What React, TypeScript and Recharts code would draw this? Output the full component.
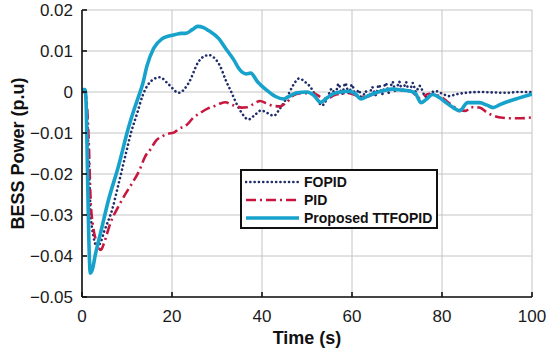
import React from 'react';
import { LineChart, Line, XAxis, YAxis, CartesianGrid, Legend } from 'recharts';

// [time (s), BESS power (p.u)]
const ttfopid: [number, number][] = [
  [0, 0.0003], [0.4, 0.0006], [0.7, 0.0006], [0.95, -0.004], [1.2, -0.018], [1.5, -0.035], [1.85, -0.0442],
  [2.3, -0.0433], [3, -0.0395], [4.1, -0.0345], [5.9, -0.0263], [8.1, -0.0181], [10.4, -0.0084], [11.5, -0.0045],
  [12.6, -0.001], [13.5, 0.002], [14.4, 0.0062], [15.9, 0.0106], [17.8, 0.013], [19.5, 0.0137], [20.7, 0.014],
  [22, 0.0143], [23, 0.0143], [24.5, 0.0152], [25.7, 0.016], [27, 0.0157], [28.1, 0.015], [30.4, 0.013],
  [32, 0.0105], [33.7, 0.0079], [35, 0.0055], [36.5, 0.0044], [37.5, 0.0046], [39, 0.0025], [41.1, 0.0004],
  [43, -0.0011], [44.8, -0.0017], [46.5, -0.0008], [47.8, -0.0002], [50, 0], [51.5, -0.0008], [53, -0.0025],
  [54.5, -0.0014], [55.9, -0.0004], [57.5, 0], [59.4, 0.0002], [60.8, -0.0005], [62, -0.0017], [63.5, -0.001],
  [65.3, -0.0002], [67, 0.0003], [69, 0.0007], [71, 0.0005], [73.1, 0.0002], [74.2, -0.0005], [75.3, -0.0026],
  [76.5, -0.0018], [77.9, -0.0006], [79.5, -0.0014], [80.9, -0.0026], [82.5, -0.0038], [83.9, -0.0046],
  [85.7, -0.0026], [88.3, -0.0026], [90, -0.0032], [91.3, -0.0038], [93, -0.003], [95, -0.0022], [97, -0.0015],
  [100, -0.0005],
];

const fopid: [number, number][] = [
  [0, 0], [0.6, 0], [1.0, -0.003], [1.5, -0.016], [1.9, -0.029], [2.5, -0.035], [3.4, -0.0378], [4.2, -0.0365],
  [5, -0.0338], [6.7, -0.0287], [8, -0.023], [9.6, -0.0157], [11, -0.0095], [12.2, -0.0054], [13.5, -0.0008],
  [14.5, 0.0015], [15.5, 0.0028], [17.3, 0.0036], [19.3, 0.0018], [21.5, -0.0002], [23.7, 0.0022], [25.9, 0.0074],
  [27.3, 0.0088], [28.3, 0.009], [29.5, 0.0082], [30.7, 0.0063], [31.9, 0.003], [33, 0.0004], [35.2, -0.0046],
  [37, -0.0067], [38.5, -0.0055], [39.8, -0.0045], [41, -0.005], [42.6, -0.0058], [44, -0.004], [45.6, -0.0012],
  [47, 0.0018], [48.3, 0.0033], [49.5, 0.0025], [50.7, 0.0013], [52, -0.001], [53.3, -0.0033], [54.5, -0.0015],
  [55.5, 0.0008], [56.3, -0.0005], [57, 0.002], [57.8, -0.0005], [58.5, 0.0022], [59.3, -0.0003], [60, 0.0018],
  [60.8, -0.0008], [61.5, 0.0005], [62.2, -0.0018], [63, 0.0002], [63.7, -0.0012], [64.5, 0.0012], [65.2, -0.0008],
  [66, 0.0018], [66.7, -0.0005], [67.5, 0.0022], [68.2, -0.0002], [69, 0.0025], [69.7, 0], [70.5, 0.0025],
  [71.2, 0], [72, 0.0024], [72.7, -0.0002], [73.5, 0.0022], [74.2, 0], [75, 0.0015], [76.4, -0.0012],
  [77.5, -0.0002], [78.7, 0.0002], [80, -0.0004], [81.6, -0.001], [83, -0.0006], [85.3, -0.0002], [88.3, 0],
  [91, -0.0001], [94.2, -0.0002], [97, 0], [100, 0],
];

const pid: [number, number][] = [
  [0, 0], [0.6, 0], [1.0, -0.002], [1.5, -0.012], [1.9, -0.026], [2.5, -0.033], [3.2, -0.0365], [4.2, -0.0385],
  [5, -0.0365], [6.3, -0.032], [8.1, -0.0279], [9.3, -0.0255], [11, -0.0225], [12.8, -0.019], [14, -0.0158],
  [15.2, -0.014], [16.5, -0.0118], [17.8, -0.0108], [19, -0.0102], [20.4, -0.0099], [21.5, -0.009], [23.3, -0.008],
  [24.8, -0.0062], [26.3, -0.0051], [28, -0.004], [29.3, -0.0035], [30.7, -0.0028], [31.9, -0.0025], [33, -0.003],
  [34.4, -0.0035], [35.5, -0.0038], [36.7, -0.0037], [38, -0.003], [39.6, -0.0022], [41, -0.0028], [42.6, -0.0034],
  [44, -0.0035], [45.5, -0.0025], [47, -0.0008], [49, -0.0003], [51.5, -0.0004], [53, -0.0012], [54.4, -0.0017],
  [56, -0.0008], [57.4, -0.0004], [59, -0.0002], [61, -0.0008], [63, -0.0012], [65, -0.0004], [67, 0.0002],
  [69, 0.0006], [71, 0.0005], [73, 0.0003], [75, -0.0015], [77, -0.0005], [79.4, -0.001], [81, -0.0022],
  [82.4, -0.0034], [84, -0.0044], [85.3, -0.0046], [86.5, -0.0037], [88.3, -0.0038], [90, -0.005], [91.3, -0.0057],
  [93, -0.0062], [95, -0.0064], [97.5, -0.0064], [100, -0.0062],
];

const xTicks = [0, 20, 40, 60, 80, 100];
const yTicks = [-0.05, -0.04, -0.03, -0.02, -0.01, 0, 0.01, 0.02];
const seriesNames = ['FOPID', 'PID', 'Proposed TTFOPID'];

const FONT = '"Liberation Sans", Arial, Helvetica, sans-serif';
const styles: Record<string, { stroke: string; width: number; dash?: string; cap?: 'round' | 'butt' }> = {
  FOPID: { stroke: '#1f2d6b', width: 2.6, dash: '0.1 4.2', cap: 'round' },
  PID: { stroke: '#c8173f', width: 2.6, dash: '10 4 2 4', cap: 'butt' },
  'Proposed TTFOPID': { stroke: '#17a2cc', width: 3.6 },
};

const toRows = (pts: [number, number][]) => pts.map(([t, v]) => ({ t, v }));

const fmtY = (v: number) => {
  if (Math.abs(v) < 1e-9) return '0';
  return (v < 0 ? '\u2212' : '') + Math.abs(v).toFixed(2);
};

const LegendBox = () => (
  <div
    style={{
      boxSizing: 'border-box',
      width: 198,
      height: 60,
      border: '2px solid #111',
      background: '#fff',
      padding: '2px 0 0 3px',
      fontFamily: FONT,
      fontWeight: 'bold',
      fontSize: 14,
      color: '#111',
    }}
  >
    {seriesNames.map((n) => {
      const s = styles[n];
      return (
        <div key={n} style={{ display: 'flex', alignItems: 'center', height: 18, whiteSpace: 'nowrap' }}>
          <svg width={55} height={18} style={{ marginRight: 4, flex: 'none' }}>
            <line
              x1={1}
              x2={54}
              y1={9}
              y2={9}
              stroke={s.stroke}
              strokeWidth={s.width}
              strokeDasharray={s.dash}
              strokeLinecap={s.cap || 'butt'}
            />
          </svg>
          <span>{n}</span>
        </div>
      );
    })}
  </div>
);

const YLabel = (props: any) => {
  const vb = props.viewBox || { x: 0, y: 10, width: 82, height: 287 };
  const cy = vb.y + vb.height / 2;
  return (
    <text
      x={18}
      y={cy}
      transform={`rotate(-90, 18, ${cy})`}
      textAnchor="middle"
      dominantBaseline="central"
      fontFamily={FONT}
      fontWeight="bold"
      fontSize={18}
      fill="#111"
    >
      BESS Power (p.u)
    </text>
  );
};

export default function App() {
  const datasets: Record<string, { t: number; v: number }[]> = {
    FOPID: toRows(fopid),
    PID: toRows(pid),
    'Proposed TTFOPID': toRows(ttfopid),
  };
  const tickStyle = { fontSize: 17, fontFamily: FONT, fill: '#1a1a1a' };
  return (
    <div style={{ position: 'absolute', left: 0, top: 0, width: 550, height: 355, background: '#fff' }}>
      <LineChart width={550} height={355} margin={{ top: 10, right: 18, bottom: 0, left: 0 }}>
        <CartesianGrid stroke="#c4c4c4" strokeWidth={1} horizontalValues={yTicks} verticalValues={xTicks} />
        <XAxis
          type="number"
          dataKey="t"
          domain={[0, 100]}
          ticks={xTicks}
          allowDataOverflow
          height={58}
          tickSize={-5}
          tickMargin={18}
          tick={tickStyle}
          stroke="#111"
          axisLine={{ stroke: '#111', strokeWidth: 1.6 }}
          tickLine={{ stroke: '#111', strokeWidth: 1.6 }}
          label={{
            value: 'Time (s)',
            position: 'insideBottom',
            offset: 11,
            style: { fontFamily: FONT, fontWeight: 'bold', fontSize: 18, fill: '#111' },
          }}
        />
        <XAxis
          xAxisId="top"
          orientation="top"
          type="number"
          dataKey="t"
          domain={[0, 100]}
          ticks={xTicks}
          height={0}
          tick={false}
          tickSize={-5}
          axisLine={{ stroke: '#111', strokeWidth: 1.6 }}
          tickLine={{ stroke: '#111', strokeWidth: 1.6 }}
        />
        <YAxis
          type="number"
          domain={[-0.05, 0.02]}
          ticks={yTicks}
          allowDataOverflow
          width={82}
          tickSize={-5}
          tickMargin={14}
          tick={tickStyle}
          tickFormatter={fmtY}
          axisLine={{ stroke: '#111', strokeWidth: 1.6 }}
          tickLine={{ stroke: '#111', strokeWidth: 1.6 }}
          label={{ content: YLabel }}
        />
        <YAxis
          yAxisId="right"
          orientation="right"
          type="number"
          domain={[-0.05, 0.02]}
          ticks={yTicks}
          width={0}
          tick={false}
          tickSize={-5}
          axisLine={{ stroke: '#111', strokeWidth: 1.6 }}
          tickLine={{ stroke: '#111', strokeWidth: 1.6 }}
        />
        {seriesNames.map((n) => {
          const s = styles[n];
          return (
            <Line
              key={n}
              name={n}
              data={datasets[n]}
              dataKey="v"
              type="monotone"
              stroke={s.stroke}
              strokeWidth={s.width}
              strokeDasharray={s.dash}
              strokeLinecap={s.cap || 'butt'}
              strokeLinejoin="round"
              dot={false}
              activeDot={false}
              isAnimationActive={false}
            />
          );
        })}
        <Legend
          layout="vertical"
          align="center"
          verticalAlign="middle"
          content={() => <LegendBox />}
          wrapperStyle={{ left: 240, top: 169, width: 198, height: 60, right: 'auto', bottom: 'auto' }}
        />
      </LineChart>
    </div>
  );
}
